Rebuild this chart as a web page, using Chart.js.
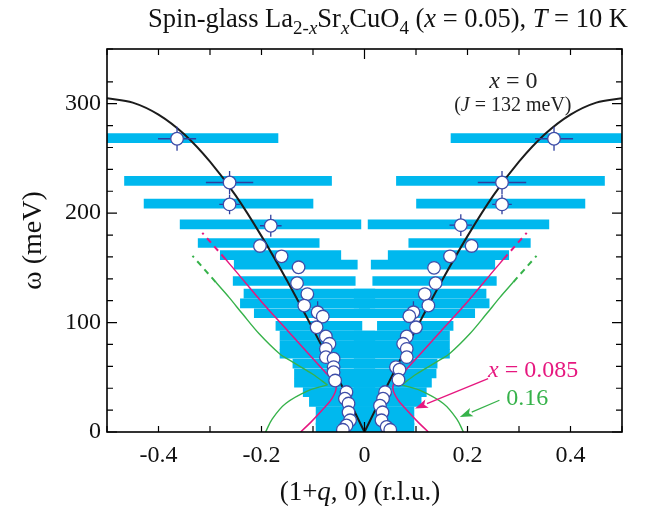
<!DOCTYPE html>
<html>
<head>
<meta charset="utf-8">
<script src="https://cdn.jsdelivr.net/npm/chart.js@4.4.1/dist/chart.umd.min.js"></script>
<style>
  html, body { margin: 0; padding: 0; background: #fff; }
</style>
</head>
<body>
<canvas id="dispersion" width="647" height="510"></canvas>
<script>
const serif = '"Liberation Serif", "Times New Roman", serif';

// measured dispersion points (q in r.l.u., energy in meV)
const ptQ = [-0.364, -0.262, -0.262, -0.182, -0.203, -0.161, -0.128, -0.131, -0.111, -0.117, -0.091, -0.081, -0.093, -0.075,
             -0.068, -0.075, -0.075, -0.060, -0.060, -0.060, -0.057, -0.035, -0.038, -0.031, -0.031, -0.028, -0.035, -0.042,
             0.368, 0.267, 0.267, 0.187, 0.208, 0.166, 0.135, 0.138, 0.117, 0.124, 0.095, 0.087, 0.100, 0.082,
             0.075, 0.082, 0.082, 0.061, 0.068, 0.066, 0.040, 0.036, 0.030, 0.035, 0.033, 0.043, 0.050];
const ptW = [268, 228, 208, 188.5, 170, 160.5, 150.5, 136, 126, 115.5, 109.4, 105.5, 95.7, 87.3,
             80.6, 76, 68.4, 67, 59.3, 54.7, 47, 36.5, 30.5, 26, 18, 10.7, 6, 2,
             268, 228, 208, 189, 170, 160.5, 150, 136, 126, 115.5, 109.4, 105.8, 95.7, 87.3,
             80.6, 76, 68.4, 59.3, 56.9, 47.8, 36.5, 30.5, 24, 18, 10.7, 4.6, 2];

// error bars on some of the points
const errQ  = [-0.364, -0.262, -0.262, -0.182, -0.203, -0.161, -0.091, 0.368, 0.267, 0.267, 0.187, 0.208, 0.166, 0.095];
const errW  = [268, 228, 208, 188.5, 170, 160.5, 109.4, 268, 228, 208, 189, 170, 160.5, 109.4];
const errDQ = [0.037, 0.046, 0.020, 0.021, 0.012, 0.012, 0, 0.037, 0.047, 0.019, 0.022, 0.012, 0.012, 0];
const errDW = [11, 10.5, 9, 10, 0, 0, 10, 11, 10.5, 9, 10, 0, 0, 10];

// constant-energy widths, one row per energy: left piece and right piece
const barW       = [268.5, 229.5, 208.7, 189.7, 172.7, 161.6, 153, 138, 126.5, 117.5, 108.5, 97, 88, 79.5, 71.5, 62.5, 53.5, 45, 36.5, 27.5, 19, 10.5, 4];
const barLeftLo  = [-0.5, -0.466, -0.428, -0.358, -0.323, -0.280, -0.253, -0.255, -0.234, -0.241, -0.214, -0.172, -0.164, -0.164, -0.164, -0.139, -0.136, -0.136, -0.119, -0.107, -0.094, -0.094, -0.094];
const barLeftHi  = [-0.168, -0.064, -0.100, -0.007, -0.088, -0.046, -0.014, -0.018, 0.020, 0.020, 0.010, -0.005, 0.020, 0.020, 0.020, 0.020, 0.020, 0.020, 0.020, 0.020, 0.020, 0.020, 0.020];
const barRightLo = [0.168, 0.062, 0.101, 0.007, 0.086, 0.046, 0.013, 0.016, -0.020, -0.020, -0.010, 0.025, -0.020, -0.020, -0.020, -0.020, -0.020, -0.020, -0.020, -0.020, -0.020, -0.020, -0.020];
const barRightHi = [0.5, 0.466, 0.428, 0.358, 0.322, 0.280, 0.253, 0.256, 0.236, 0.242, 0.214, 0.172, 0.165, 0.165, 0.165, 0.141, 0.139, 0.130, 0.120, 0.110, 0.096, 0.096, 0.096];

// x = 0 spin-wave curve (q >= 0; the q < 0 side is its mirror)
const swQ = [0, 0.05, 0.10, 0.15, 0.20, 0.25, 0.30, 0.35, 0.40, 0.45, 0.50];
const swW = [0, 48, 94, 138, 179, 216, 247, 272, 290, 301, 305];

// x = 0.085 hourglass (solid, then dashed continuation)
const m085Q = [0.124, 0.104, 0.082, 0.064, 0.055, 0.060, 0.075, 0.100, 0.150, 0.200, 0.250, 0.270];
const m085W = [0, 9, 20, 30, 40, 47, 54, 67, 93, 119, 147, 158];
const m085DashQ = [0.270, 0.315];
const m085DashW = [158, 182];

// x = 0.16: lower arc, upper branch, dashed continuation
const g16LowQ = [0.192, 0.179, 0.153, 0.108, 0.072];
const g16LowW = [0, 12, 26, 38, 43];
const g16UpQ = [0.072, 0.101, 0.140, 0.166, 0.205, 0.237, 0.263, 0.289];
const g16UpW = [43, 53, 64, 72, 90, 108, 123, 137];
const g16DashQ = [0.289, 0.334];
const g16DashW = [137, 161];

const xTicks = { step: 0.1, labelEvery: 2 };
const yTicks = { step: 20, labelEvery: 100 };

const BLUE = '#00b8ee';
const MAGENTA = '#e6177f';
const GREEN = '#36b24a';
const RING = '#3f4da8';

function pts(qs, ws, sign) {
  return qs.map((q, i) => ({ x: sign * q, y: ws[i] }));
}

function curve(qs, ws, sign, color, width, dash, order) {
  return {
    type: 'line', data: pts(qs, ws, sign), borderColor: color, borderWidth: width,
    borderDash: dash || [], pointRadius: 0, tension: 0.35, fill: false, order: order
  };
}

const barData = [];
barW.forEach((w, i) => {
  barData.push({ x: [barLeftLo[i], barLeftHi[i]], y: w });
  barData.push({ x: [barRightLo[i], barRightHi[i]], y: w });
});

const errData = [];
errQ.forEach((q, i) => {
  if (errDQ[i] > 0) {
    errData.push({ x: q - errDQ[i], y: errW[i] }, { x: q + errDQ[i], y: errW[i] }, { x: q, y: null });
  }
  if (errDW[i] > 0) {
    errData.push({ x: q, y: errW[i] - errDW[i] }, { x: q, y: errW[i] + errDW[i] }, { x: q, y: null });
  }
});

// draws text made of plain / italic / subscript runs
function drawRuns(ctx, runs, x, y, size, align, color) {
  const fontOf = r => (r[1].includes('i') ? 'italic ' : '') + (r[1].includes('s') ? Math.round(size * 0.72) : size) + 'px ' + serif;
  let total = 0;
  runs.forEach(r => { ctx.font = fontOf(r); total += ctx.measureText(r[0]).width; });
  let cx = align === 'center' ? x - total / 2 : x;
  ctx.fillStyle = color;
  ctx.textAlign = 'left';
  ctx.textBaseline = 'alphabetic';
  runs.forEach(r => {
    ctx.font = fontOf(r);
    ctx.fillText(r[0], cx, y + (r[1].includes('s') ? size * 0.27 : 0));
    cx += ctx.measureText(r[0]).width;
  });
}

function arrow(ctx, x0, y0, x1, y1, color) {
  const ang = Math.atan2(y1 - y0, x1 - x0);
  const len = 13, half = 4.5;
  const bx = x1 - len * Math.cos(ang), by = y1 - len * Math.sin(ang);
  ctx.strokeStyle = color;
  ctx.fillStyle = color;
  ctx.lineWidth = 1.3;
  ctx.beginPath();
  ctx.moveTo(x0, y0);
  ctx.lineTo(bx, by);
  ctx.stroke();
  ctx.beginPath();
  ctx.moveTo(x1, y1);
  ctx.lineTo(bx - half * Math.sin(ang), by + half * Math.cos(ang));
  ctx.lineTo(bx + 3 * Math.cos(ang), by + 3 * Math.sin(ang));
  ctx.lineTo(bx + half * Math.sin(ang), by - half * Math.cos(ang));
  ctx.closePath();
  ctx.fill();
}

const framePlugin = {
  id: 'frameAndNotes',
  afterDatasetsDraw(chart) {
    const { ctx, chartArea: a, scales: { x, y } } = chart;
    ctx.save();
    ctx.strokeStyle = '#000';
    ctx.lineWidth = 1.2;
    ctx.beginPath();
    x.ticks.forEach(t => {
      const px = x.getPixelForValue(t.value);
      const len = Math.abs(t.value) < 1e-9 ? 10 : 6;
      ctx.moveTo(px, a.bottom); ctx.lineTo(px, a.bottom - len);
      ctx.moveTo(px, a.top); ctx.lineTo(px, a.top + len);
    });
    y.ticks.forEach(t => {
      const py = y.getPixelForValue(t.value);
      const len = Math.round(t.value) % yTicks.labelEvery === 0 ? 10 : 6;
      ctx.moveTo(a.left, py); ctx.lineTo(a.left + len, py);
      ctx.moveTo(a.right, py); ctx.lineTo(a.right - len, py);
    });
    ctx.stroke();
    ctx.lineWidth = 1.6;
    ctx.strokeRect(a.left, a.top, a.right - a.left, a.bottom - a.top);

    // arrows pointing at the two hourglass curves
    arrow(ctx, x.getPixelForValue(0.240), y.getPixelForValue(48.7), x.getPixelForValue(0.098), y.getPixelForValue(21.5), MAGENTA);
    arrow(ctx, x.getPixelForValue(0.262), y.getPixelForValue(29), x.getPixelForValue(0.185), y.getPixelForValue(13.6), GREEN);

    drawRuns(ctx, [['x', 'i'], [' = 0', '']], x.getPixelForValue(0.289), y.getPixelForValue(314), 24, 'center', '#222');
    drawRuns(ctx, [['(', ''], ['J', 'i'], [' = 132 meV)', '']], x.getPixelForValue(0.288), y.getPixelForValue(293), 20, 'center', '#222');
    drawRuns(ctx, [['x', 'i'], [' = 0.085', '']], x.getPixelForValue(0.240), y.getPixelForValue(50), 24, 'left', MAGENTA);
    drawRuns(ctx, [['0.16', '']], x.getPixelForValue(0.275), y.getPixelForValue(25), 24, 'left', GREEN);

    drawRuns(ctx, [['Spin-glass La', ''], ['2-', 's'], ['x', 'si'], ['Sr', ''], ['x', 'si'], ['CuO', ''], ['4', 's'],
                   [' (', ''], ['x', 'i'], [' = 0.05), ', ''], ['T', 'i'], [' = 10 K', '']], 388, 27, 26.5, 'center', '#111');
    drawRuns(ctx, [['(1+', ''], ['q', 'i'], [', 0) (r.l.u.)', '']], 360, 500, 27, 'center', '#111');
    ctx.restore();
  }
};

new Chart(document.getElementById('dispersion'), {
  type: 'scatter',
  data: {
    datasets: [
      {
        type: 'scatter', data: pts(ptQ, ptW, 1), pointRadius: 6.3, pointBackgroundColor: '#fff',
        pointBorderColor: RING, pointBorderWidth: 1.3, order: 0
      },
      {
        type: 'line', data: errData, borderColor: '#2f3f9e', borderWidth: 1.3, pointRadius: 0,
        spanGaps: false, tension: 0, order: 1
      },
      curve(swQ, swW, 1, '#1c1c1c', 2, null, 2),
      curve(swQ, swW, -1, '#1c1c1c', 2, null, 2),
      curve(m085Q, m085W, 1, MAGENTA, 1.5, null, 3),
      curve(m085Q, m085W, -1, MAGENTA, 1.5, null, 3),
      curve(m085DashQ, m085DashW, 1, MAGENTA, 2, [6, 5], 3),
      curve(m085DashQ, m085DashW, -1, MAGENTA, 2, [6, 5], 3),
      curve(g16LowQ, g16LowW, 1, GREEN, 1.4, null, 3),
      curve(g16LowQ, g16LowW, -1, GREEN, 1.4, null, 3),
      curve(g16UpQ, g16UpW, 1, GREEN, 1.4, null, 3),
      curve(g16UpQ, g16UpW, -1, GREEN, 1.4, null, 3),
      curve(g16DashQ, g16DashW, 1, GREEN, 2, [6, 5], 3),
      curve(g16DashQ, g16DashW, -1, GREEN, 2, [6, 5], 3),
      {
        type: 'bar', indexAxis: 'y', data: barData, backgroundColor: BLUE,
        barThickness: 9, borderWidth: 0, order: 5
      }
    ]
  },
  options: {
    responsive: false,
    animation: false,
    layout: { padding: { top: 49, right: 25, left: 0, bottom: 0 } },
    plugins: { legend: { display: false }, tooltip: { enabled: false } },
    scales: {
      x: {
        type: 'linear', min: -0.5, max: 0.5, offset: false,
        grid: { display: false, drawTicks: false, offset: false },
        border: { display: false },
        afterFit: s => { s.height = 78; },
        ticks: {
          stepSize: xTicks.step, padding: 9, autoSkip: false, maxRotation: 0, color: '#111', font: { family: serif, size: 24 },
          callback: v => {
            const n = Math.round(v * 10);
            return n % xTicks.labelEvery === 0 ? String(n / 10) : '';
          }
        }
      },
      y: {
        type: 'linear', min: 0, max: 350, offset: false,
        grid: { display: false, drawTicks: false, offset: false },
        border: { display: false },
        afterFit: s => { s.width = 107; },
        title: { display: true, text: 'ω (meV)', color: '#111', font: { family: serif, size: 28 }, padding: { top: 17, bottom: 0 } },
        ticks: {
          stepSize: yTicks.step, padding: 6, autoSkip: false, color: '#111', font: { family: serif, size: 24 },
          callback: v => (Math.round(v) % yTicks.labelEvery === 0 ? String(v) : '')
        }
      }
    }
  },
  plugins: [framePlugin]
});
</script>
</body>
</html>
